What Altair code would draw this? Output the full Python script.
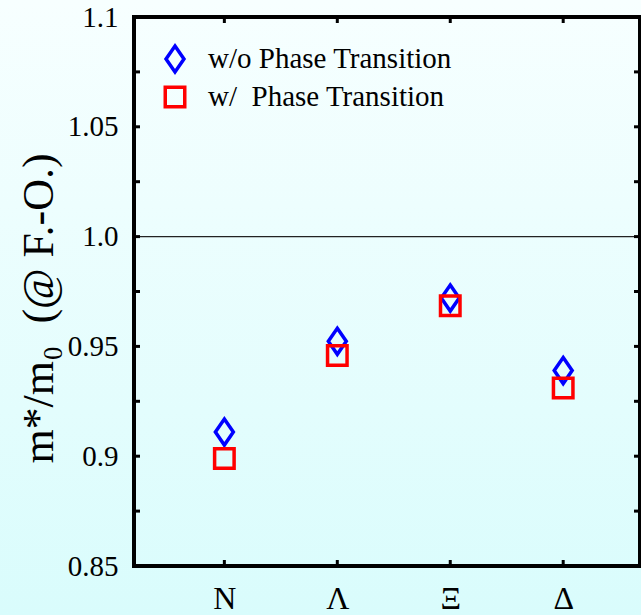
import json
import altair as alt
import pandas as pd

# ---- data ----
categories = ["N", "Λ", "Ξ", "Δ"]
cat_positions = [1, 2, 3, 4]
series_names = ["w/o Phase Transition", "w/\u00a0 Phase Transition"]
without_pt = [0.911, 0.9523, 0.972, 0.939]
with_pt = [0.899, 0.9458, 0.9685, 0.931]
y_label_ticks = [0.85, 0.9, 0.95, 1.0, 1.05, 1.1]
y_minor_ticks = [0.875, 0.925, 0.975, 1.025, 1.075]
ref_value = [1.0]

W, H = 506, 549
FONT = "'Liberation Serif', 'Times New Roman', Times, 'DejaVu Serif', serif"

rows = []
for s, vals in zip(series_names, [without_pt, with_pt]):
    for pos, cat, v in zip(cat_positions, categories, vals):
        rows.append({"pos": pos, "cat": cat, "value": v, "series": s})
df = pd.DataFrame(rows)

yticks_df = pd.DataFrame({"v": y_label_ticks + y_minor_ticks})
xticks_df = pd.DataFrame({"p": cat_positions})
one = pd.DataFrame({"k": [0]})

x_scale = alt.Scale(domain=[0.2, 4.68], nice=False, zero=False)
y_scale = alt.Scale(domain=[0.85, 1.1], nice=False, zero=False)

diamond = "M0,-1L0.69,0L0,1L-0.69,0Z"
square = "M-0.75,-0.75L0.75,-0.75L0.75,0.75L-0.75,0.75Z"

label_expr = json.dumps(categories, ensure_ascii=False) + "[datum.value - 1]"

x_axis = alt.Axis(
    values=cat_positions, labelExpr=label_expr, ticks=False, tickSize=0, domain=False, grid=False,
    labelFont=FONT, labelFontSize=32, labelColor="black", labelPadding=42,
    labelBaseline="alphabetic", title=None, zindex=1,
)
y_axis = alt.Axis(
    values=y_label_ticks,
    labelExpr="datum.value == 1 ? '1.0' : toString(round(datum.value * 100) / 100)",
    ticks=False, tickSize=0, domain=False, grid=False,
    labelFont=FONT, labelFontSize=29, labelColor="black", labelPadding=16,
    title="m*/m₀\u00a0\u00a0(@ F.-O.)", titleFont=FONT, titleFontSize=44, titleFontWeight="normal",
    titleColor="black", titleAngle=270, titleX=-82, titleY=291, titleAlign="center",
    titleBaseline="alphabetic", zindex=1,
)

bg = alt.Chart(one).mark_rect(
    clip=False,
    fill=alt.Gradient(
        gradient="linear", x1=0, x2=0, y1=0, y2=1,
        stops=[alt.GradientStop(offset=0, color="#f7ffff"),
               alt.GradientStop(offset=1, color="#d9fcfc")],
    ),
).encode(x=alt.value(-134), x2=alt.value(W + 1), y=alt.value(-17), y2=alt.value(H + 49))

ref = alt.Chart(pd.DataFrame({"r": ref_value})).mark_rule(color="#222222", strokeWidth=1.2).encode(
    y=alt.Y("r:Q", scale=y_scale, axis=y_axis)
)

legend = alt.Legend(
    title=None, orient="none", legendX=26, legendY=27, padding=0,
    labelFont=FONT, labelFontSize=29, labelColor="black", labelOffset=18,
    symbolSize=676, symbolStrokeWidth=3.5, rowPadding=1, labelLimit=400,
)

points = alt.Chart(df).mark_point(filled=False, size=676, strokeWidth=3.5, opacity=1).encode(
    x=alt.X("pos:Q", scale=x_scale, axis=x_axis),
    y=alt.Y("value:Q", scale=y_scale, axis=y_axis),
    shape=alt.Shape("series:N", scale=alt.Scale(domain=series_names, range=[diamond, square]), legend=legend),
    color=alt.Color("series:N", scale=alt.Scale(domain=series_names, range=["#0000ff", "#ff0000"]), legend=legend),
)

tick_len = 6
left_ticks = alt.Chart(yticks_df).mark_rule(color="black", strokeWidth=3).encode(
    y=alt.Y("v:Q", scale=y_scale, axis=y_axis), x=alt.value(0), x2=alt.value(tick_len)
)
right_ticks = alt.Chart(yticks_df).mark_rule(color="black", strokeWidth=3).encode(
    y=alt.Y("v:Q", scale=y_scale, axis=y_axis), x=alt.value(W - tick_len), x2=alt.value(W)
)
top_ticks = alt.Chart(xticks_df).mark_rule(color="black", strokeWidth=3).encode(
    x=alt.X("p:Q", scale=x_scale, axis=x_axis), y=alt.value(0), y2=alt.value(tick_len)
)
bottom_ticks = alt.Chart(xticks_df).mark_rule(color="black", strokeWidth=3).encode(
    x=alt.X("p:Q", scale=x_scale, axis=x_axis), y=alt.value(H - tick_len), y2=alt.value(H)
)

frame = alt.Chart(one).mark_rect(filled=False, stroke="black", strokeWidth=4, clip=False).encode(
    x=alt.value(0), x2=alt.value(W), y=alt.value(0), y2=alt.value(H)
)

chart = alt.layer(bg, ref, points, left_ticks, right_ticks, top_ticks, bottom_ticks, frame).properties(
    width=W, height=H,
    autosize=alt.AutoSizeParams(type="none"),
    padding={"left": 134, "top": 17, "right": 1, "bottom": 49},
    background="#e8fefe",
).configure_view(stroke=None)

chart.save("out.html", embed_options={"renderer": "svg", "actions": False})
